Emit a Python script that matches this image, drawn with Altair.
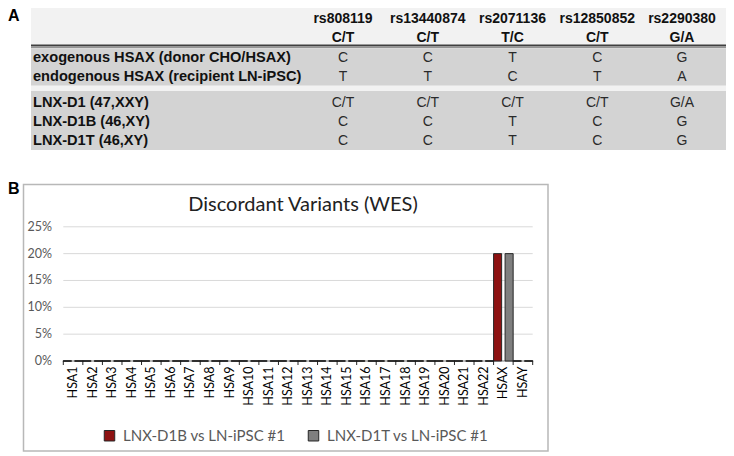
import altair as alt
import pandas as pd

# ---------------- Panel A: genotype table ----------------
snp_ids = ["rs808119", "rs13440874", "rs2071136", "rs12850852", "rs2290380"]
snp_alleles = ["C/T", "C/T", "T/C", "C/T", "G/A"]

group1_labels = ["exogenous HSAX (donor CHO/HSAX)", "endogenous HSAX (recipient LN-iPSC)"]
group1_calls = [
    ["C", "C", "T", "C", "G"],
    ["T", "T", "C", "T", "A"],
]
group2_labels = ["LNX-D1 (47,XXY)", "LNX-D1B (46,XY)", "LNX-D1T (46,XY)"]
group2_calls = [
    ["C/T", "C/T", "C/T", "C/T", "G/A"],
    ["C", "C", "T", "C", "G"],
    ["C", "C", "T", "C", "G"],
]

# ---------------- Panel B: discordant variants ----------------
chromosomes = ["HSA1", "HSA2", "HSA3", "HSA4", "HSA5", "HSA6", "HSA7", "HSA8",
               "HSA9", "HSA10", "HSA11", "HSA12", "HSA13", "HSA14", "HSA15",
               "HSA16", "HSA17", "HSA18", "HSA19", "HSA20", "HSA21", "HSA22",
               "HSAX", "HSAY"]
series_names = ["LNX-D1B vs LN-iPSC #1", "LNX-D1T vs LN-iPSC #1"]
d1b_values = [0, 0, 0, 0, 0, 0, 0, 0, 0, 0, 0, 0, 0, 0, 0, 0, 0, 0, 0, 0, 0, 0, 20, 0]
d1t_values = [0, 0, 0, 0, 0, 0, 0, 0, 0, 0, 0, 0, 0, 0, 0, 0, 0, 0, 0, 0, 0, 0, 20, 0]
y_ticks = [0, 5, 10, 15, 20, 25]
y_tick_labels = ["0%", "5%", "10%", "15%", "20%", "25%"]
chart_title = "Discordant Variants (WES)"
panel_labels = ["A", "B"]

# ---------------- helpers ----------------
def px(v):
    """page pixel -> chart pixel (page margin 8px)"""
    return v - 8

one = pd.DataFrame({"k": [0]})

def box(x1, x2, y1, y2, **kw):
    return alt.Chart(one).mark_rect(**kw).encode(
        x=alt.value(px(x1)), x2=alt.value(px(x2)),
        y=alt.value(px(y1)), y2=alt.value(px(y2)))

def hrule(x1, x2, y, **kw):
    return alt.Chart(one).mark_rule(**kw).encode(
        x=alt.value(px(x1)), x2=alt.value(px(x2)), y=alt.value(px(y)))

TABLE_FONT = "Liberation Sans"
CHART_FONT = "Lato"

col_scale = alt.Scale(type="point", domain=snp_ids, range=[px(343), px(682)], padding=0)

layers = []

# table backgrounds
layers.append(box(31, 726, 8, 150, color="#f2f2f2"))
layers.append(box(31, 726, 48.5, 85.5, color="#d3d3d3"))
layers.append(box(31, 726, 91, 150, color="#d3d3d3"))
layers.append(hrule(31, 726, 45.5, color="#404040", strokeWidth=2))
layers.append(hrule(31, 726, 47.6, color="#8a8a8a", strokeWidth=1))

# header
hdr = pd.DataFrame({"snp": snp_ids, "allele": snp_alleles})
layers.append(alt.Chart(hdr).mark_text(font=TABLE_FONT, fontSize=14, fontWeight="bold",
                                       color="#111111", align="center", baseline="middle").encode(
    x=alt.X("snp:N", scale=col_scale, axis=None), y=alt.value(px(18.5)), text="snp:N"))
layers.append(alt.Chart(hdr).mark_text(font=TABLE_FONT, fontSize=14, fontWeight="bold",
                                       color="#111111", align="center", baseline="middle").encode(
    x=alt.X("snp:N", scale=col_scale, axis=None), y=alt.value(px(37.5)), text="allele:N"))

def group_layers(labels, calls, y1, y2):
    rscale = alt.Scale(type="point", domain=labels, range=[px(y1), px(y2)], padding=0.5)
    lab = pd.DataFrame({"row": labels})
    recs = []
    for r, row_calls in zip(labels, calls):
        for s, c in zip(snp_ids, row_calls):
            recs.append({"row": r, "snp": s, "call": c})
    vals = pd.DataFrame(recs)
    l1 = alt.Chart(lab).mark_text(font=TABLE_FONT, fontSize=14.6, fontWeight="bold", color="#111111",
                                  align="left", baseline="middle").encode(
        x=alt.value(px(33)), y=alt.Y("row:N", scale=rscale, axis=None), text="row:N")
    l2 = alt.Chart(vals).mark_text(font=TABLE_FONT, fontSize=14, color="#2a2a2a",
                                   align="center", baseline="middle").encode(
        x=alt.X("snp:N", scale=col_scale, axis=None),
        y=alt.Y("row:N", scale=rscale, axis=None), text="call:N")
    return [l1, l2]

layers += group_layers(group1_labels, group1_calls, 49, 86)
layers += group_layers(group2_labels, group2_calls, 93, 150)

# panel letters
pl = pd.DataFrame({"t": panel_labels})
layers.append(alt.Chart(pl.iloc[[0]]).mark_text(font=TABLE_FONT, fontSize=16, fontWeight="bold",
                                                color="#000000", align="left", baseline="top").encode(
    x=alt.value(0), y=alt.value(0), text="t:N"))
layers.append(alt.Chart(pl.iloc[[1]]).mark_text(font=TABLE_FONT, fontSize=16, fontWeight="bold",
                                                color="#000000", align="left", baseline="middle").encode(
    x=alt.value(0), y=alt.value(px(188.5)), text="t:N"))

# ---------------- chart ----------------
layers.append(box(23.5, 548, 184.5, 451, fillOpacity=0, stroke="#b8b8b8", strokeWidth=1.5))

ttl = pd.DataFrame({"t": [chart_title]})
layers.append(alt.Chart(ttl).mark_text(font=CHART_FONT, fontSize=20, color="#222222",
                                       align="center", baseline="middle").encode(
    x=alt.value(px(303)), y=alt.value(px(205)), text="t:N"))

x_scale = alt.Scale(type="band", domain=chromosomes, range=[px(63.3), px(532.7)],
                    paddingInner=0, paddingOuter=0)
y_scale = alt.Scale(domain=[0, 25], range=[px(361), px(226.8)], nice=False, zero=True)
off_scale = alt.Scale(domain=series_names, paddingInner=0.3, paddingOuter=0)

yt = pd.DataFrame({"v": y_ticks, "lab": y_tick_labels})
layers.append(alt.Chart(yt).mark_rule(color="#d9d9d9", strokeWidth=1).encode(
    y=alt.Y("v:Q", scale=y_scale, axis=None), x=alt.value(px(63.3)), x2=alt.value(px(532.7))))
layers.append(alt.Chart(yt.iloc[[0]]).mark_rule(color="#8c8c8c", strokeWidth=1).encode(
    y=alt.Y("v:Q", scale=y_scale, axis=None), x=alt.value(px(63.3)), x2=alt.value(px(532.7))))
layers.append(alt.Chart(yt).mark_text(font=CHART_FONT, fontSize=12.5, color="#595959",
                                      align="right", baseline="middle").encode(
    y=alt.Y("v:Q", scale=y_scale, axis=None), x=alt.value(px(52)), text="lab:N"))

chrom_df = pd.DataFrame({"chrom": chromosomes})
layers.append(alt.Chart(chrom_df).mark_rule(color="#262626", strokeWidth=1).encode(
    x=alt.X("chrom:N", scale=x_scale, axis=None, bandPosition=0),
    y=alt.value(px(361)), y2=alt.value(px(365))))
layers.append(alt.Chart(chrom_df.iloc[[-1]]).mark_rule(color="#262626", strokeWidth=1).encode(
    x=alt.X("chrom:N", scale=x_scale, axis=None, bandPosition=1),
    y=alt.value(px(361)), y2=alt.value(px(365))))
layers.append(alt.Chart(chrom_df).mark_text(font=CHART_FONT, fontSize=12.5, color="#000000",
                                            angle=270, align="right", baseline="middle").encode(
    x=alt.X("chrom:N", scale=x_scale, axis=None), y=alt.value(px(366.5)), text="chrom:N"))

bars = pd.DataFrame({
    "chrom": chromosomes * 2,
    "series": [series_names[0]] * len(chromosomes) + [series_names[1]] * len(chromosomes),
    "value": d1b_values + d1t_values,
})
layers.append(alt.Chart(bars).mark_bar(stroke="#262626", strokeWidth=1).encode(
    x=alt.X("chrom:N", scale=x_scale, axis=None),
    xOffset=alt.XOffset("series:N", scale=off_scale),
    y=alt.Y("value:Q", scale=y_scale, axis=None),
    color=alt.Color("series:N",
                    scale=alt.Scale(domain=series_names, range=["#8e1212", "#7f7f7f"]),
                    legend=alt.Legend(title=None, orient="none", legendX=px(102), legendY=px(428),
                                      direction="horizontal", symbolType="square", symbolSize=110,
                                      symbolStrokeColor="#262626", symbolStrokeWidth=1,
                                      labelFont=CHART_FONT, labelFontSize=15, labelColor="#595959",
                                      labelOffset=6, columnPadding=20, padding=0, labelLimit=300)),
))
# outline of the zero-height bars (Excel draws them as short dark dashes)
layers.append(alt.Chart(bars).transform_filter(alt.datum.value == 0).mark_tick(
    color="#1a1a1a", thickness=1.6, size=9, orient="horizontal").encode(
    x=alt.X("chrom:N", scale=x_scale, axis=None),
    xOffset=alt.XOffset("series:N", scale=off_scale),
    y=alt.Y("value:Q", scale=y_scale, axis=None),
))

chart = alt.layer(*layers).resolve_scale(
    x="independent", y="independent", color="independent"
).properties(
    width=718, height=444, padding=0, autosize=alt.AutoSizeParams(type="none")
).configure_view(strokeWidth=0)

chart.save("out.html", embed_options={"renderer": "svg", "actions": False})
